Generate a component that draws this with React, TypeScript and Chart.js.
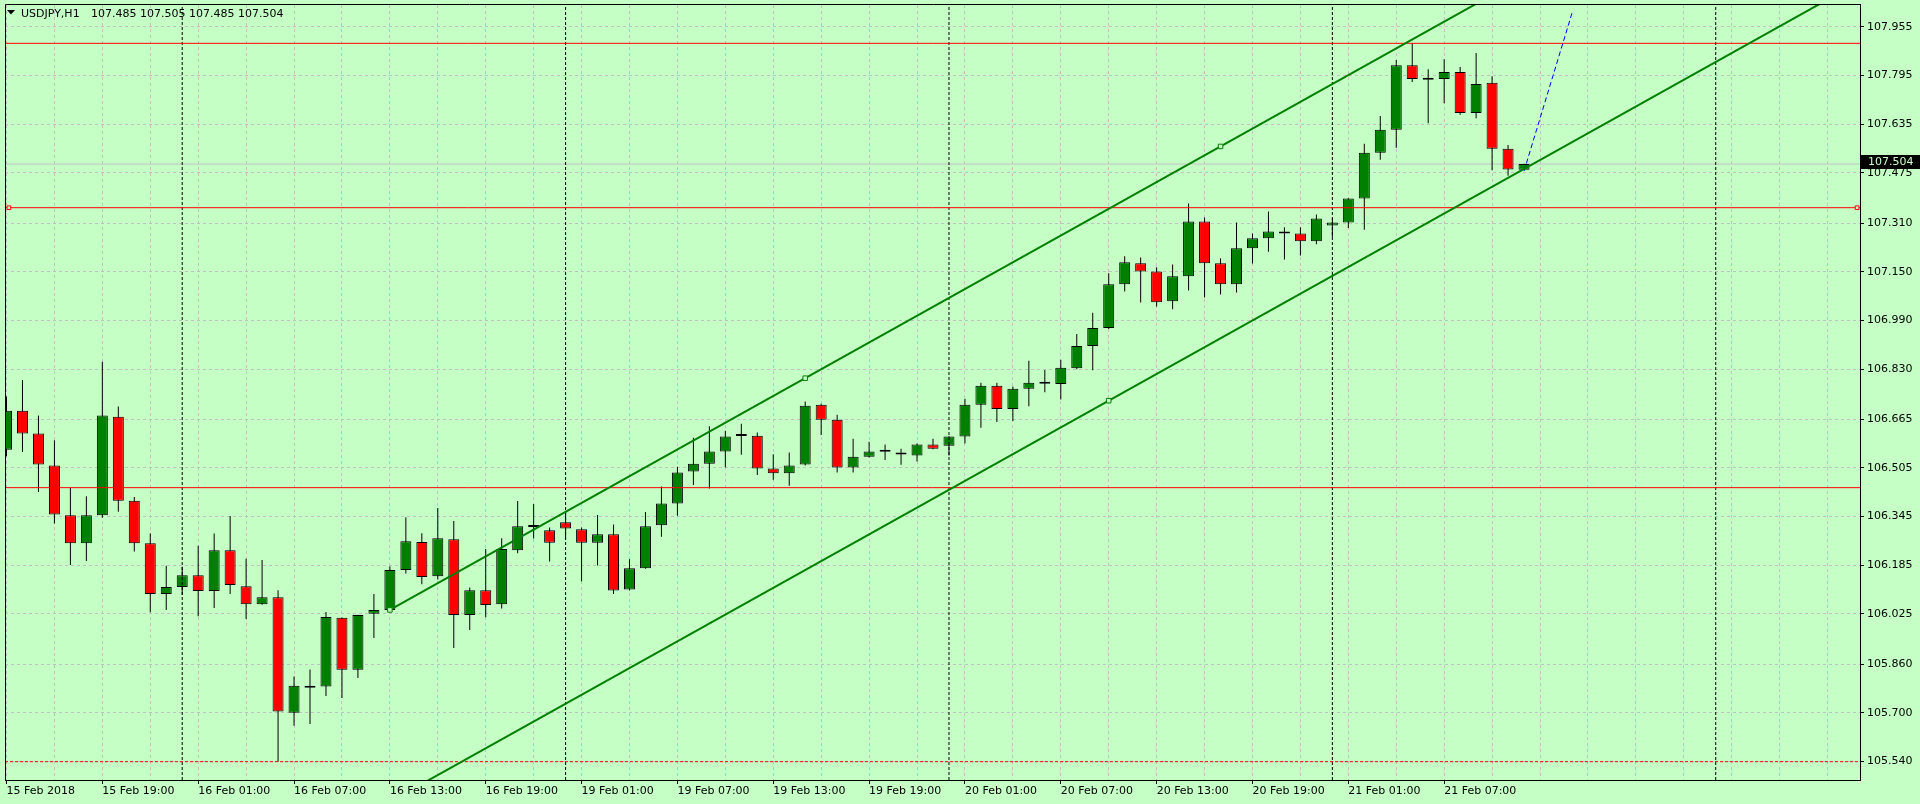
import React, { useEffect, useRef } from 'react';
import { Chart, registerables } from 'chart.js';

Chart.register(...registerables);

// ---------- data (USDJPY H1, bar index 0 = 15 Feb 2018 13:00) ----------
const openPrices = [
  106.565, 106.693, 106.618, 106.513, 106.349, 106.257, 106.349, 106.673, 106.397, 106.257,
  106.090, 106.113, 106.152, 106.100, 106.234, 106.116, 106.057, 106.080, 105.700, 105.789,
  105.786, 106.012, 105.841, 106.025, 106.038, 106.169, 106.261, 106.149, 106.270, 106.021,
  106.103, 106.057, 106.234, 106.311, 106.300, 106.326, 106.303, 106.259, 106.287, 106.105,
  106.175, 106.316, 106.388, 106.493, 106.519, 106.559, 106.610, 106.611, 106.503, 106.487,
  106.516, 106.713, 106.663, 106.506, 106.542, 106.558, 106.555, 106.546, 106.582, 106.578,
  106.608, 106.713, 106.775, 106.699, 106.765, 106.782, 106.781, 106.833, 106.906, 106.965,
  107.109, 107.178, 107.151, 107.053, 107.135, 107.315, 107.178, 107.109, 107.227, 107.260,
  107.282, 107.276, 107.250, 107.302, 107.312, 107.391, 107.541, 107.617, 107.829, 107.781,
  107.784, 107.807, 107.672, 107.771, 107.554, 107.485,
];
const highPrices = [
  106.740, 106.794, 106.677, 106.596, 106.440, 106.412, 106.854, 106.707, 106.409, 106.289,
  106.183, 106.180, 106.249, 106.289, 106.347, 106.206, 106.202, 106.103, 105.819, 105.842,
  106.031, 106.013, 106.022, 106.090, 106.182, 106.343, 106.290, 106.373, 106.330, 106.112,
  106.238, 106.274, 106.396, 106.386, 106.309, 106.363, 106.309, 106.350, 106.319, 106.205,
  106.360, 106.444, 106.509, 106.604, 106.642, 106.627, 106.650, 106.621, 106.550, 106.556,
  106.723, 106.716, 106.680, 106.601, 106.591, 106.582, 106.568, 106.585, 106.601, 106.609,
  106.732, 106.785, 106.785, 106.773, 106.857, 106.827, 106.861, 106.945, 107.015, 107.145,
  107.201, 107.197, 107.165, 107.174, 107.374, 107.328, 107.194, 107.312, 107.276, 107.348,
  107.296, 107.296, 107.338, 107.326, 107.392, 107.571, 107.662, 107.846, 107.902, 107.816,
  107.849, 107.823, 107.869, 107.793, 107.567, 107.505,
];
const lowPrices = [
  106.543, 106.557, 106.426, 106.322, 106.186, 106.199, 106.341, 106.361, 106.230, 106.030,
  106.038, 106.087, 106.017, 106.044, 106.090, 106.008, 106.055, 105.539, 105.657, 105.663,
  105.755, 105.748, 105.814, 105.946, 106.030, 106.158, 106.122, 106.138, 105.913, 105.972,
  106.014, 106.043, 106.224, 106.273, 106.197, 106.270, 106.132, 106.184, 106.090, 106.102,
  106.173, 106.279, 106.348, 106.449, 106.437, 106.506, 106.548, 106.482, 106.466, 106.446,
  106.513, 106.613, 106.490, 106.490, 106.539, 106.531, 106.515, 106.526, 106.566, 106.546,
  106.585, 106.637, 106.656, 106.659, 106.708, 106.754, 106.730, 106.829, 106.826, 106.962,
  107.085, 107.049, 107.036, 107.027, 107.088, 107.065, 107.075, 107.082, 107.177, 107.216,
  107.190, 107.203, 107.240, 107.264, 107.294, 107.288, 107.518, 107.558, 107.774, 107.638,
  107.704, 107.666, 107.655, 107.484, 107.466, 107.485,
];
const closePrices = [
  106.693, 106.618, 106.516, 106.352, 106.257, 106.349, 106.677, 106.397, 106.257, 106.090,
  106.113, 106.152, 106.100, 106.234, 106.120, 106.057, 106.080, 105.704, 105.789, 105.782,
  106.015, 105.841, 106.021, 106.038, 106.169, 106.264, 106.146, 106.274, 106.021, 106.103,
  106.054, 106.238, 106.313, 106.311, 106.259, 106.306, 106.259, 106.287, 106.102, 106.175,
  106.313, 106.388, 106.490, 106.519, 106.559, 106.608, 106.610, 106.503, 106.487, 106.513,
  106.709, 106.663, 106.506, 106.542, 106.559, 106.558, 106.549, 106.582, 106.568, 106.608,
  106.713, 106.775, 106.699, 106.765, 106.785, 106.782, 106.834, 106.906, 106.965, 107.109,
  107.181, 107.151, 107.050, 107.135, 107.315, 107.178, 107.109, 107.227, 107.260, 107.282,
  107.276, 107.250, 107.325, 107.312, 107.391, 107.541, 107.617, 107.829, 107.784, 107.781,
  107.807, 107.672, 107.767, 107.554, 107.486, 107.504,
];

const symbolName = 'USDJPY,H1';
const xTickBars = [0, 6, 12, 18, 24, 30, 36, 42, 48, 54, 60, 66, 72, 78, 84, 90];
const xTickLabels = [
  '15 Feb 2018', '15 Feb 19:00', '16 Feb 01:00', '16 Feb 07:00', '16 Feb 13:00', '16 Feb 19:00',
  '19 Feb 01:00', '19 Feb 07:00', '19 Feb 13:00', '19 Feb 19:00', '20 Feb 01:00', '20 Feb 07:00',
  '20 Feb 13:00', '20 Feb 19:00', '21 Feb 01:00', '21 Feb 07:00',
];
const xGridBars = [
  0, 3, 6, 9, 12, 15, 18, 21, 24, 27, 30, 33, 36, 39, 42, 45, 48, 51, 54, 57, 60, 63, 66, 69,
  72, 75, 78, 81, 84, 87, 90, 93, 96, 99, 102, 105, 108, 111, 114,
];
const yTickValues = [
  105.540, 105.700, 105.860, 106.025, 106.185, 106.345, 106.505, 106.665, 106.830, 106.990,
  107.150, 107.310, 107.475, 107.635, 107.795, 107.955,
];
const daySeparatorBars = [11, 35, 59, 83, 107];
const redLevels = [107.901, 107.3605, 106.440];
const redDashedLevel = 105.539;
const selectedLevel = 107.3605;
const selectedLevelMarkerBars = [0.15, 115.85];
const channelMainPoints = [{ x: 24, y: 106.038 }, { x: 50, y: 106.8 }];
const channelParallelPoint = { x: 69, y: 106.726 };
const channelMainMarkerBars = [24, 50, 76];
const projectionPoints = [{ x: 95, y: 107.481 }, { x: 98, y: 108.0 }];

// axis ranges
const X_MIN = -0.09375;
const X_MAX = 116.03125;
const Y_MIN = 105.47875;
const Y_MAX = 108.02706;

// styles
const BG = '#C6FFC6';
const GRID = '#C0C0C0';
const GREEN = '#008000';
const RED = '#FF0000';
const FONT = '"DejaVu Sans", sans-serif';

const labelOf = (v: any) => {
  const i = xTickBars.indexOf(Number(v));
  return i >= 0 ? xTickLabels[i] : '';
};

export default function App() {
  const ref = useRef<HTMLCanvasElement>(null);

  useEffect(() => {
    const canvas = ref.current;
    if (!canvas) return;
    const last = closePrices.length - 1;
    const lastClose = closePrices[last];

    const bodyColors = closePrices.map((c, i) =>
      c > openPrices[i] ? GREEN : c < openPrices[i] ? RED : '#000000'
    );

    const slope =
      (channelMainPoints[1].y - channelMainPoints[0].y) /
      (channelMainPoints[1].x - channelMainPoints[0].x);
    const mainAt = (b: number) => channelMainPoints[0].y + slope * (b - channelMainPoints[0].x);
    const parAt = (b: number) => channelParallelPoint.y + slope * (b - channelParallelPoint.x);
    const startBar = channelMainPoints[0].x;

    const lineDs = (data: any[], color: string, width: number, dash: number[], order: number) => ({
      type: 'line',
      data,
      borderColor: color,
      borderWidth: width,
      borderDash: dash,
      pointRadius: 0,
      fill: false,
      tension: 0,
      clip: 0,
      order,
    });

    const datasets: any[] = [
      {
        type: 'bar',
        data: closePrices.map((c, i) => ({ x: i, y: [openPrices[i], c] })),
        backgroundColor: bodyColors,
        borderColor: '#000000',
        borderWidth: 1,
        borderSkipped: false,
        barThickness: 11,
        minBarLength: 2,
        grouped: false,
        inflateAmount: 0,
        clip: 0,
        order: 5,
      },
      {
        type: 'bar',
        data: closePrices.map((_, i) => ({ x: i, y: [lowPrices[i], highPrices[i]] })),
        backgroundColor: '#000000',
        borderWidth: 0,
        barThickness: 1,
        grouped: false,
        inflateAmount: 0,
        clip: 0,
        order: 6,
      },
      lineDs([{ x: X_MIN, y: lastClose }, { x: X_MAX, y: lastClose }], GRID, 1, [], 7),
      ...daySeparatorBars.map((b) =>
        lineDs([{ x: b, y: Y_MIN }, { x: b, y: Y_MAX }], '#000000', 1, [3, 2], 3)
      ),
      ...redLevels.map((p) => lineDs([{ x: X_MIN, y: p }, { x: X_MAX, y: p }], RED, 1, [], 2)),
      lineDs([{ x: X_MIN, y: redDashedLevel }, { x: X_MAX, y: redDashedLevel }], RED, 1, [3, 2], 2),
      lineDs([{ x: startBar, y: mainAt(startBar) }, { x: X_MAX, y: mainAt(X_MAX) }], GREEN, 2, [], 1),
      lineDs([{ x: startBar, y: parAt(startBar) }, { x: X_MAX, y: parAt(X_MAX) }], GREEN, 2, [], 1),
      lineDs(projectionPoints, '#0000FF', 1, [5, 3], 1),
      {
        type: 'line',
        data: [
          ...channelMainMarkerBars.map((b) => ({ x: b, y: mainAt(b) })),
          { x: channelParallelPoint.x, y: channelParallelPoint.y },
        ],
        showLine: false,
        pointStyle: 'rect',
        pointRadius: 3.2,
        pointBorderWidth: 1,
        pointBorderColor: GREEN,
        pointBackgroundColor: BG,
        clip: false,
        order: 0,
      },
      {
        type: 'line',
        data: selectedLevelMarkerBars.map((b) => ({ x: b, y: selectedLevel })),
        showLine: false,
        pointStyle: 'rect',
        pointRadius: 2.6,
        pointBorderWidth: 1,
        pointBorderColor: RED,
        pointBackgroundColor: BG,
        clip: false,
        order: 0,
      },
    ];

    const bgPlugin = {
      id: 'mtBackground',
      beforeDraw(chart: any) {
        const { ctx, width, height } = chart;
        ctx.save();
        ctx.fillStyle = BG;
        ctx.fillRect(0, 0, width, height);
        ctx.restore();
      },
    };

    const titlePlugin = {
      id: 'mtTitle',
      beforeDatasetsDraw(chart: any) {
        const ctx = chart.ctx;
        ctx.save();
        ctx.fillStyle = '#000000';
        ctx.beginPath();
        ctx.moveTo(7, 10);
        ctx.lineTo(15, 10);
        ctx.lineTo(11, 14.5);
        ctx.closePath();
        ctx.fill();
        ctx.font = `11px ${FONT}`;
        ctx.textAlign = 'left';
        ctx.textBaseline = 'alphabetic';
        ctx.fillText(symbolName, 21, 17);
        const ohlc = [openPrices[last], highPrices[last], lowPrices[last], closePrices[last]]
          .map((v) => v.toFixed(3))
          .join(' ');
        ctx.fillText(ohlc, 91, 17);
        ctx.restore();
      },
    };

    const framePlugin = {
      id: 'mtFrame',
      afterDraw(chart: any) {
        const { ctx, chartArea: a } = chart;
        ctx.save();
        ctx.strokeStyle = '#000000';
        ctx.lineWidth = 1;
        ctx.beginPath();
        ctx.moveTo(a.left + 0.5, a.bottom);
        ctx.lineTo(a.left + 0.5, a.top - 0.5);
        ctx.lineTo(a.right + 1, a.top - 0.5);
        ctx.stroke();
        const y = Math.round(chart.scales.y.getPixelForValue(lastClose));
        ctx.fillStyle = '#000000';
        ctx.fillRect(a.right + 1, y - 9, chart.width - a.right - 1, 14);
        ctx.fillStyle = BG;
        ctx.font = `11px ${FONT}`;
        ctx.textAlign = 'left';
        ctx.textBaseline = 'middle';
        ctx.fillText(lastClose.toFixed(3), a.right + 8, y - 1.5);
        ctx.restore();
      },
    };

    const chart = new Chart(canvas, {
      type: 'bar',
      data: { datasets },
      options: {
        responsive: false,
        animation: false,
        events: [],
        layout: { padding: { left: 2, top: 2, right: 0, bottom: 0 } },
        plugins: {
          legend: { display: false },
          tooltip: { enabled: false },
          title: { display: false },
        },
        scales: {
          x: {
            type: 'linear',
            min: X_MIN,
            max: X_MAX,
            offset: false,
            bounds: 'data',
            afterBuildTicks: (s: any) => {
              s.ticks = xGridBars.map((v) => ({ value: v }));
            },
            afterFit: (s: any) => {
              s.height = 24;
              s.paddingLeft = 0;
              s.paddingRight = 0;
              s.paddingTop = 0;
              s.paddingBottom = 0;
            },
            grid: {
              color: GRID,
              offset: false,
              lineWidth: 1,
              drawTicks: true,
              tickLength: 4,
              tickColor: (c: any) => (labelOf(c.tick && c.tick.value) ? '#000000' : 'rgba(0,0,0,0)'),
            },
            border: { display: true, color: '#000000', width: 1, dash: [3, 3] },
            ticks: {
              autoSkip: false,
              maxRotation: 0,
              minRotation: 0,
              align: 'start',
              padding: 1,
              color: '#000000',
              font: { family: FONT, size: 11 },
              callback: (v: any) => labelOf(v),
            },
          },
          y: {
            type: 'linear',
            position: 'right',
            min: Y_MIN,
            max: Y_MAX,
            beginAtZero: false,
            bounds: 'data',
            afterBuildTicks: (s: any) => {
              s.ticks = yTickValues.map((v) => ({ value: v }));
            },
            afterFit: (s: any) => {
              s.width = 60;
              s.paddingLeft = 0;
              s.paddingRight = 0;
              s.paddingTop = 0;
              s.paddingBottom = 0;
            },
            grid: {
              color: GRID,
              lineWidth: 1,
              drawTicks: true,
              tickLength: 4,
              tickColor: '#000000',
            },
            border: { display: true, color: '#000000', width: 1, dash: [3, 3] },
            ticks: {
              padding: 3,
              color: '#000000',
              font: { family: FONT, size: 11 },
              callback: (v: any) => Number(v).toFixed(3),
            },
          },
        },
      } as any,
      plugins: [bgPlugin, titlePlugin, framePlugin],
    } as any);

    return () => chart.destroy();
  }, []);

  return (
    <canvas
      ref={ref}
      width={1920}
      height={804}
      style={{ position: 'fixed', left: 0, top: 0, display: 'block', width: 1920, height: 804 }}
    />
  );
}
